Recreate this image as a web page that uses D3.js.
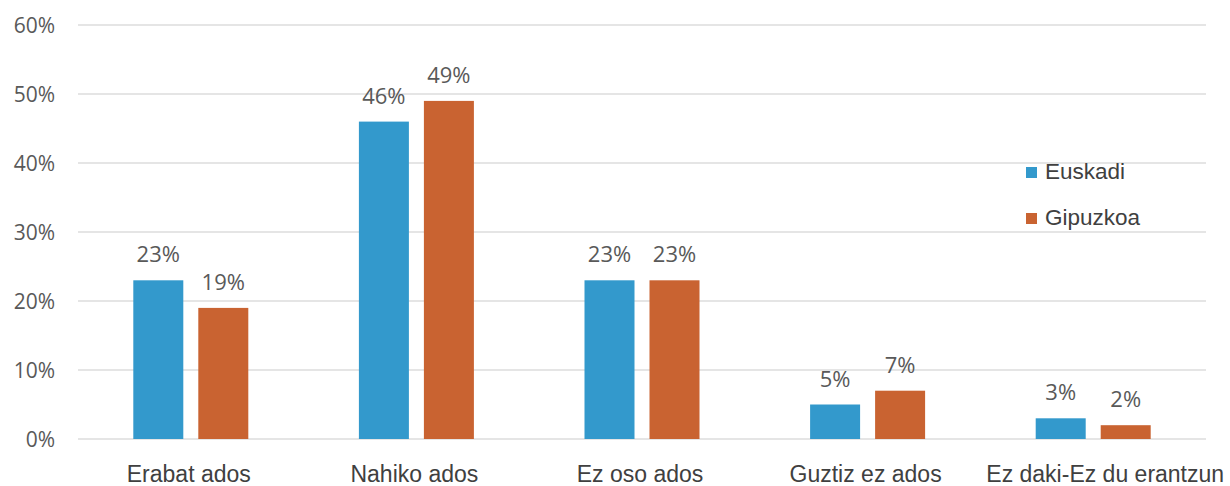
<head>
<script src="https://cdn.jsdelivr.net/npm/d3@7"></script>
<style>
  body { margin: 0; background: #fff; }
</style>
</head>
<body>
<script>
    // datuak
    const categories = ["Erabat ados", "Nahiko ados", "Ez oso ados", "Guztiz ez ados", "Ez daki-Ez du erantzun"];
    const seriesNames = ["Euskadi", "Gipuzkoa"];
    const euskadi = [23, 46, 23, 5, 3];
    const gipuzkoa = [19, 49, 23, 7, 2];
    const yTicks = [0, 10, 20, 30, 40, 50, 60];
    const colors = ["#3399CC", "#C96331"];

    const width = 1230, height = 486;
    const margin = {left: 78, right: 24, top: 25, bottom: 47};

    const svg = d3.select("body").append("svg")
        .attr("width", width)
        .attr("height", height);

    const x = d3.scaleBand()
        .domain(categories)
        .range([margin.left, width - margin.right]);
    const x1 = d3.scaleBand()
        .domain(seriesNames)
        .range([x.bandwidth() / 2 - 57.5, x.bandwidth() / 2 + 57.5])
        .paddingInner(0.2308);
    const y = d3.scaleLinear()
        .domain([0, 60])
        .range([height - margin.bottom, margin.top]);

    // grid
    svg.append("g")
        .selectAll("line")
        .data(yTicks)
        .join("line")
        .attr("x1", margin.left)
        .attr("x2", width - margin.right)
        .attr("y1", d => y(d))
        .attr("y2", d => y(d))
        .attr("stroke", "#dcdcdc")
        .attr("stroke-width", 1.3);

    // y axis labels
    svg.append("g")
        .selectAll("text")
        .data(yTicks)
        .join("text")
        .attr("x", 55)
        .attr("y", d => y(d))
        .attr("dy", "0.36em")
        .attr("text-anchor", "end")
        .attr("font-family", "Open Sans")
        .attr("font-size", 21)
        .attr("fill", "#595959")
        .text(d => d + "%");

    const rows = categories.map((c, i) => ({cat: c, values: [euskadi[i], gipuzkoa[i]]}));

    const groups = svg.append("g")
        .selectAll("g")
        .data(rows)
        .join("g")
        .attr("transform", d => `translate(${x(d.cat)},0)`);

    groups.selectAll("rect")
        .data(d => d.values.map((v, j) => ({name: seriesNames[j], v: v, j: j})))
        .join("rect")
        .attr("x", d => x1(d.name))
        .attr("width", x1.bandwidth())
        .attr("y", d => y(d.v))
        .attr("height", d => y(0) - y(d.v))
        .attr("fill", d => colors[d.j]);

    groups.selectAll("text")
        .data(d => d.values.map((v, j) => ({name: seriesNames[j], v: v})))
        .join("text")
        .attr("x", d => x1(d.name) + x1.bandwidth() / 2)
        .attr("y", d => y(d.v) - 18)
        .attr("text-anchor", "middle")
        .attr("font-family", "Open Sans")
        .attr("font-size", 22)
        .attr("fill", "#595959")
        .text(d => d.v + "%");

    // category labels (last one sits a bit to the right, like the original)
    svg.append("g")
        .selectAll("text")
        .data(categories)
        .join("text")
        .attr("x", d => x(d) + x.bandwidth() / 2)
        .attr("dx", (d, i) => i === categories.length - 1 ? 12 : -2)
        .attr("y", y(0) + 43)
        .attr("text-anchor", "middle")
        .attr("font-family", "Liberation Sans")
        .attr("font-size", 23)
        .attr("fill", "#404040")
        .text(d => d);

    // legend
    const legend = svg.append("g")
        .selectAll("g")
        .data(seriesNames)
        .join("g")
        .attr("transform", (d, i) => `translate(1026,${179 + i * 46})`);
    legend.append("rect")
        .attr("y", -12)
        .attr("width", 11)
        .attr("height", 11)
        .attr("fill", (d, i) => colors[i]);
    legend.append("text")
        .attr("x", 19)
        .attr("font-family", "Liberation Sans")
        .attr("font-size", 22.5)
        .attr("fill", "#404040")
        .text(d => d);
</script>
</body>
